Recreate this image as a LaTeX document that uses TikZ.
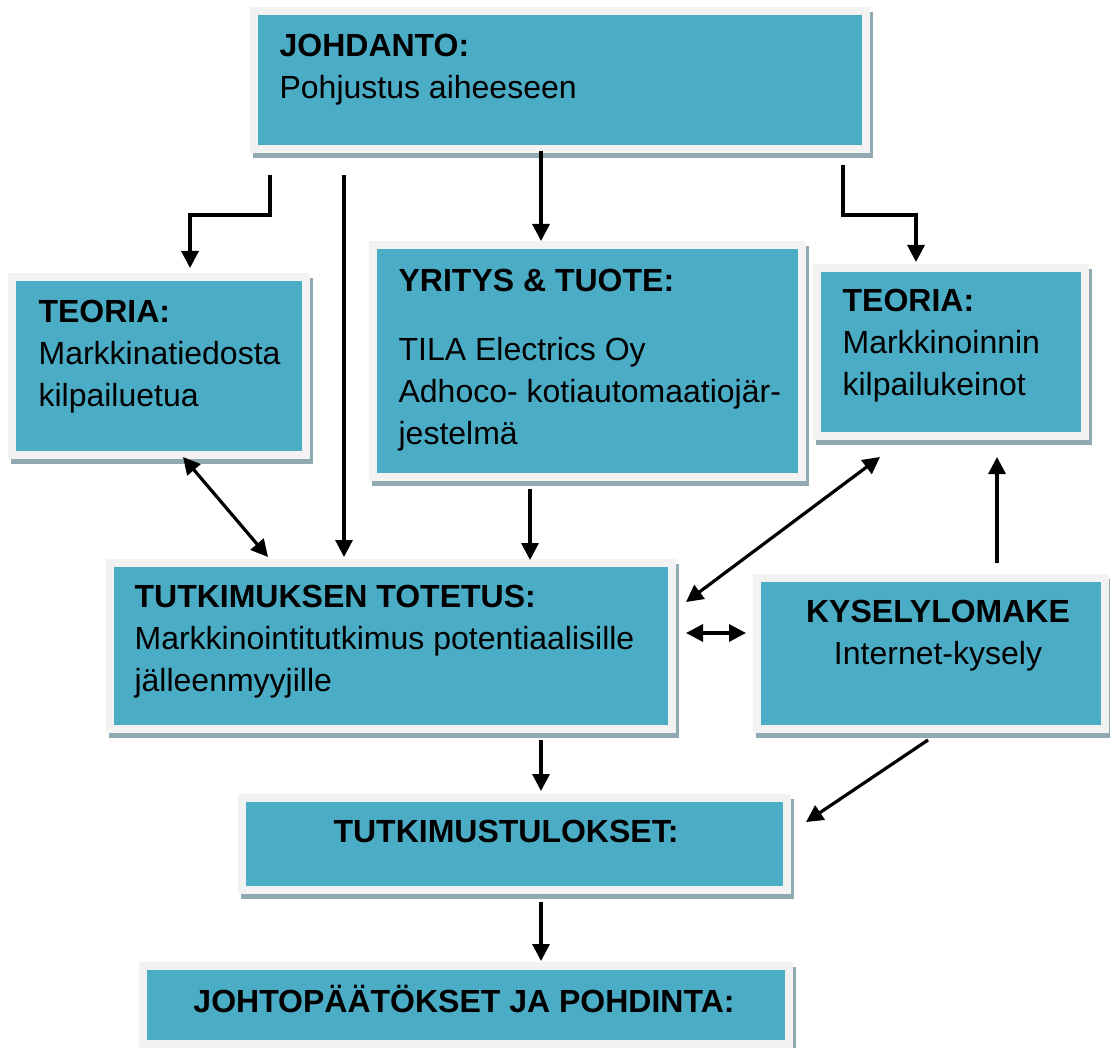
\documentclass[tikz,border=0pt]{standalone}
\usepackage{fontspec}
\setmainfont{Liberation Sans}
\usetikzlibrary{arrows.meta, positioning}
\definecolor{boxteal}{HTML}{4BACC6}
\definecolor{boxrim}{HTML}{F2F2F2}
\definecolor{boxshade}{HTML}{91A9B3}
\tikzset{>={Triangle[length=17pt,width=17pt]}}
\tikzset{
  box/.style={fill=boxteal, draw=boxrim, line width=8pt, inner sep=0pt, outer sep=0pt,
    preaction={draw=boxshade, fill=boxshade, transform canvas={xshift=3pt,yshift=-5pt}}},
  txt/.style={font=\fontsize{32}{42}\selectfont, align=left, inner sep=0pt, anchor=base west},
}

\begin{document}
\begin{tikzpicture}[x=1pt, y=-1pt, line width=3.2pt]
    \useasboundingbox (0,0) rectangle (1110,1048);
    % boxes
    \node[box, minimum width=612pt, minimum height=138pt]	(johdanto)	at	(560,80)	{};
    \node[box, minimum width=294pt, minimum height=178pt]	(teoria1)	at	(159,366)	{};
    \node[box, minimum width=429pt, minimum height=232pt]	(yritys)	at	(587.5,361)	{};
    \node[box, minimum width=268pt, minimum height=168pt]	(teoria2)	at	(951,352)	{};
    \node[box, minimum width=562pt, minimum height=166pt]	(toteutus)	at	(391,646)	{};
    \node[box, minimum width=348pt, minimum height=151pt]	(kysely)	at	(931,653.5)	{};
    \node[box, minimum width=545pt, minimum height=92pt]	(tulokset)	at	(514.5,844)	{};
    \node[box, minimum width=646pt, minimum height=78pt]	(paatokset)	at	(466,1005)	{};

    % texts (base = last line)
    \node[txt] (johdantoT) at ([shift={(24,88)}]johdanto.north west) {\textbf{JOHDANTO:}\\Pohjustus aiheeseen};
    \node[txt] (teoria1T) at ([shift={(25,129)}]teoria1.north west) {\textbf{TEORIA:}\\Markkinatiedosta\\kilpailuetua};
    \node[txt] (yritysT) at ([shift={(24,199)}]yritys.north west) {\textbf{YRITYS \& TUOTE:}\\[27pt]TILA Electrics Oy\\Adhoco- kotiautomaatiojär-\\jestelmä};
    \node[txt] (teoria2T) at ([shift={(24,127)}]teoria2.north west) {\textbf{TEORIA:}\\Markkinoinnin\\kilpailukeinot};
    \node[txt] (toteutusT) at ([shift={(23,128)}]toteutus.north west) {\textbf{TUTKIMUKSEN TOTETUS:}\\Markkinointitutkimus potentiaalisille\\jälleenmyyjille};
    \node[txt, align=center, anchor=base] (kyselyT) at ([shift={(181,86)}]kysely.north west) {\textbf{KYSELYLOMAKE}\\Internet-kysely};
    \node[txt, anchor=base] (tuloksetT) at ([shift={(264,44)}]tulokset.north west) {\textbf{TUTKIMUSTULOKSET:}};
    \node[txt, anchor=base] (paatoksetT) at ([shift={(321,46)}]paatokset.north west) {\textbf{JOHTOPÄÄTÖKSET JA POHDINTA:}};

    % arrows
    \draw[->] ([shift={(16,26)}]johdanto.south west) -- ++(0,40) -| ([shift={(178,-9)}]teoria1.north west);
    \draw[->] ([shift={(90,26)}]johdanto.south west) -- ([shift={(234,-6)}]toteutus.north west);
    \draw[->] ([shift={(-19,2)}]johdanto.south) -- ([shift={(168,-4)}]yritys.north west);
    \draw[->] ([shift={(-23,16)}]johdanto.south east) -- ++(0,50) -| ([shift={(99,-6)}]teoria2.north west);

    \draw[<->] ([shift={(171,2)}]teoria1.south west) -- ([shift={(158,-6)}]toteutus.north west);
    \draw[->] ([shift={(157,12)}]yritys.south west) -- ([shift={(420,-3)}]toteutus.north west);
    \draw[<->] ([shift={(63,21)}]teoria2.south west) -- ([shift={(14,39)}]toteutus.north east);
    \draw[->] ([shift={(240,-15)}]kysely.north west) -- ([shift={(180,21)}]teoria2.south west);
    \draw[<->] ([shift={(14,70)}]toteutus.north east) -- ([shift={(-11,55)}]kysely.north west);

    \draw[->] ([shift={(171,11)}]kysely.south west) -- ([shift={(19,24)}]tulokset.north east);
    \draw[->] ([shift={(431,11)}]toteutus.south west) -- ([shift={(299,-7)}]tulokset.north west);
    \draw[->] ([shift={(299,12)}]tulokset.south west) -- ([shift={(398,-5)}]paatokset.north west);
\end{tikzpicture}
\end{document}
